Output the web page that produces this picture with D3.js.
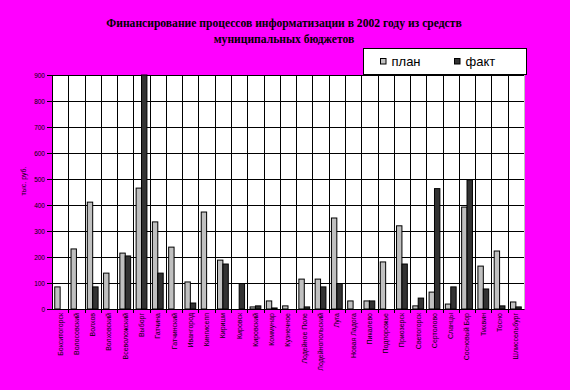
<!DOCTYPE html>
<html>
<head>
<meta charset="utf-8">
<script src="https://cdn.jsdelivr.net/npm/d3@7"></script>
<style>
  body { margin: 0; background: #ff00ff; }
  svg { display: block; }
</style>
</head>
<body>
<script>
// Data
const categories = ["Бокситогорск", "Волосовский", "Волхов", "Волховский", "Всеволожский",
    "Выборг", "Гатчина", "Гатчинский", "Ивангород", "Кингисепп", "Кириши", "Кировск",
    "Кировский", "Коммунар", "Кузнечное", "Лодейное Поле", "Лодейнопольский", "Луга",
    "Новая Ладога", "Пикалево", "Подпорожье", "Приозерск", "Светогорск", "Сертолово",
    "Сланцы", "Сосновый Бор", "Тихвин", "Тосно", "Шлиссельбург"];
const planValues = [85, 231, 411, 138, 215, 465, 335, 238, 104, 373, 188, 0, 8, 31, 12,
    115, 115, 350, 31, 31, 181, 320, 12, 65, 19, 392, 165, 223, 27];
const factValues = [0, 0, 85, 0, 204, 900, 138, 0, 23, 0, 173, 98, 12, 4, 0,
    8, 85, 98, 0, 31, 0, 173, 42, 463, 85, 497, 77, 12, 8];
const seriesNames = ["план", "факт"];
const yTicks = [0, 100, 200, 300, 400, 500, 600, 700, 800, 900];
const titleLines = ["Финансирование процессов информатизации в 2002 году из средств",
    "муниципальных бюджетов"];
const yLabel = "тыс. руб.";

// Set up dimensions
const W = 570, H = 390;
const margin = { top: 75, right: 46, bottom: 81, left: 52 };
const width = W - margin.left - margin.right;
const height = H - margin.top - margin.bottom;

const colors = { "план": "#c0c0c0", "факт": "#333333" };

const svg = d3.select("body")
    .append("svg")
    .attr("width", W)
    .attr("height", H);

svg.append("rect")
    .attr("width", W)
    .attr("height", H)
    .attr("fill", "#ff00ff");

// Title
svg.selectAll(".title")
    .data(titleLines)
    .enter().append("text")
    .attr("class", "title")
    .attr("x", 284)
    .attr("y", (d, i) => 27 + i * 16)
    .attr("text-anchor", "middle")
    .style("font-family", "'Liberation Serif', 'Times New Roman', serif")
    .style("font-weight", "bold")
    .style("font-size", "11.6px")
    .text(d => d);

const g = svg.append("g")
    .attr("transform", `translate(${margin.left},${margin.top})`);

// Scales
const x = d3.scaleBand().domain(categories).range([0, width]);
const y = d3.scaleLinear().domain([0, 900]).range([height, 0]);

// Plot background
g.append("rect")
    .attr("width", width)
    .attr("height", height)
    .attr("fill", "#fff");

// Grid lines
g.selectAll(".hgrid")
    .data(yTicks)
    .enter().append("line")
    .attr("x1", 0).attr("x2", width)
    .attr("y1", d => Math.round(y(d)) + 0.5)
    .attr("y2", d => Math.round(y(d)) + 0.5)
    .attr("stroke", "#000");

g.selectAll(".vgrid")
    .data(categories.slice(1))
    .enter().append("line")
    .attr("x1", d => Math.round(x(d)) + 0.5)
    .attr("x2", d => Math.round(x(d)) + 0.5)
    .attr("y1", 0).attr("y2", height)
    .attr("stroke", "#000");

// Right border
g.append("line")
    .attr("x1", width + 0.5).attr("x2", width + 0.5)
    .attr("y1", 0).attr("y2", height)
    .attr("stroke", "#c0c0c0");

// Bars
const barW = 5.4;
const table = categories.map((c, i) => ({ cat: c, "план": planValues[i], "факт": factValues[i] }));

seriesNames.forEach((s, k) => {
    g.selectAll(".bar-" + k)
        .data(table.filter(d => d[s] > 0))
        .enter().append("rect")
        .attr("x", d => x(d.cat) + x.bandwidth() / 2 - barW + k * barW)
        .attr("y", d => y(d[s]))
        .attr("width", barW)
        .attr("height", d => height - y(d[s]))
        .attr("fill", colors[s])
        .attr("stroke", "#000")
        .attr("stroke-width", 1);
});

// Axes
const yAxis = g.append("g")
    .call(d3.axisLeft(y).tickValues(yTicks).tickSize(5).tickPadding(2));
yAxis.select(".domain").attr("stroke", "#000");
yAxis.selectAll("text")
    .style("font-family", "'Liberation Sans', Arial, sans-serif")
    .style("font-size", "6.5px")
    .attr("fill", "#000");

const xAxis = g.append("g")
    .attr("transform", `translate(0,${height})`)
    .call(d3.axisBottom(x).tickSize(0).tickSizeOuter(0));
xAxis.select(".domain").attr("stroke", "#000");
xAxis.selectAll("text")
    .attr("transform", "rotate(-90)")
    .attr("x", -4)
    .attr("y", 0)
    .attr("dy", "0.35em")
    .style("text-anchor", "end")
    .style("font-family", "'Liberation Sans', Arial, sans-serif")
    .style("font-size", "7px")
    .attr("fill", "#000");

// Category boundary ticks
g.selectAll(".xtick")
    .data(categories.slice(1))
    .enter().append("line")
    .attr("x1", d => Math.round(x(d)) + 0.5)
    .attr("x2", d => Math.round(x(d)) + 0.5)
    .attr("y1", height).attr("y2", height + 4)
    .attr("stroke", "#000");

// Y label
svg.append("text")
    .attr("transform", `translate(26,${margin.top + height / 2 - 11}) rotate(-90)`)
    .attr("text-anchor", "middle")
    .style("font-family", "'Liberation Sans', Arial, sans-serif")
    .style("font-size", "7px")
    .text(yLabel);

// Legend
const legend = svg.append("g")
    .attr("transform", "translate(363.5,48.5)");

legend.append("rect")
    .attr("width", 163)
    .attr("height", 26)
    .attr("fill", "#fff")
    .attr("stroke", "#000");

seriesNames.forEach((s, i) => {
    legend.append("rect")
        .attr("x", 17 + i * 74)
        .attr("y", 10)
        .attr("width", 5.5)
        .attr("height", 5.5)
        .attr("fill", colors[s])
        .attr("stroke", "#000");

    legend.append("text")
        .attr("x", 28 + i * 74)
        .attr("y", 17)
        .style("font-family", "'Liberation Sans', Arial, sans-serif")
        .style("font-size", "13px")
        .text(s);
});
</script>
</body>
</html>
